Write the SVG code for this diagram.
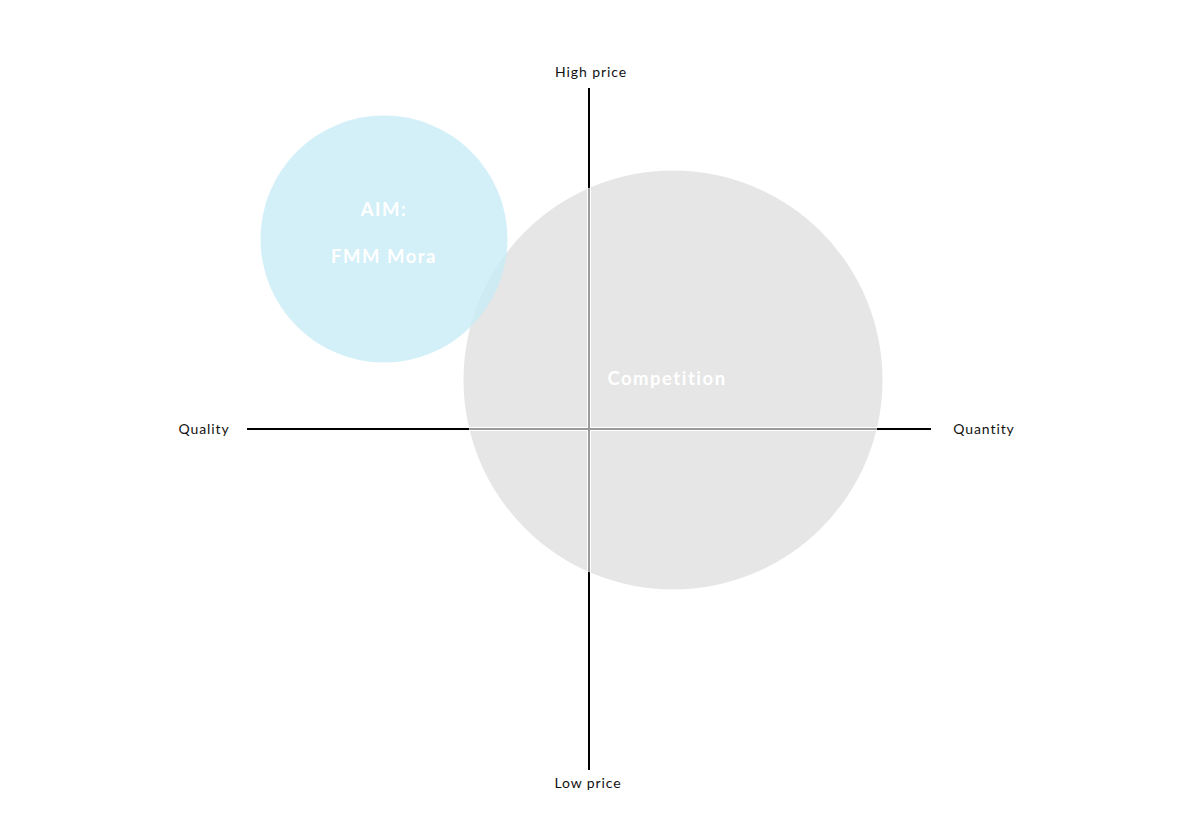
<svg xmlns="http://www.w3.org/2000/svg" width="1200" height="833" viewBox="0 0 1200 833">
<style>
.lbl{font-family:Lato,"Noto Sans",sans-serif;font-size:14px;fill:#111;letter-spacing:0.9px}
.inner{font-family:Lato,"Noto Sans",sans-serif;font-size:18.5px;font-weight:bold;fill:#fff;letter-spacing:1.5px}
</style>
<defs>
<clipPath id="gc"><circle cx="673" cy="380" r="209.5"/></clipPath>
</defs>
<rect width="1200" height="833" fill="#fff"/>
<g id="axes">
<line x1="589" y1="88" x2="589" y2="770" stroke="#000" stroke-width="2"/>
<line x1="247" y1="429" x2="931" y2="429" stroke="#000" stroke-width="2"/>
</g>
<g id="competition">
<circle cx="673" cy="380" r="209.5" fill="#e6e6e6"/>
<g clip-path="url(#gc)">
<line x1="589" y1="88" x2="589" y2="770" stroke="#fff" stroke-width="4"/>
<line x1="247" y1="429" x2="931" y2="429" stroke="#fff" stroke-width="4"/>
<line x1="589" y1="88" x2="589" y2="770" stroke="#9a9a9a" stroke-width="2"/>
<line x1="247" y1="429" x2="931" y2="429" stroke="#9a9a9a" stroke-width="2"/>
</g>
<text class="inner" x="667" y="385" text-anchor="middle">Competition</text>
</g>
<g id="aim">
<circle cx="384" cy="239" r="123.5" fill="#c8ecf6" fill-opacity="0.8"/>
<text class="inner" x="384" y="216" text-anchor="middle">AIM:</text>
<text class="inner" x="384" y="263" text-anchor="middle">FMM Mora</text>
</g>
<g id="labels">
<text class="lbl" x="591" y="77" text-anchor="middle">High price</text>
<text class="lbl" x="588" y="788" text-anchor="middle">Low price</text>
<text class="lbl" x="204" y="434" text-anchor="middle">Quality</text>
<text class="lbl" x="984" y="434" text-anchor="middle">Quantity</text>
</g>
</svg>
